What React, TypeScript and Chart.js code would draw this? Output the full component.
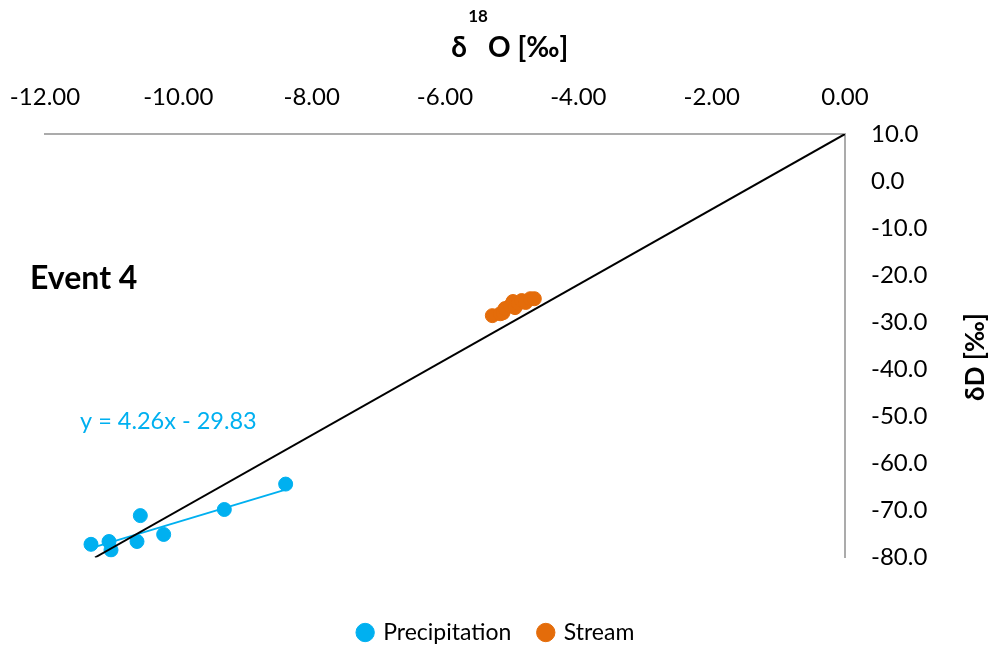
import React, { useEffect, useRef } from "react";
import { Chart, registerables } from "chart.js";

Chart.register(...registerables);

// δ18O / δD samples, ‰
const precipitationX = [-11.31, -11.04, -11.01, -10.57, -10.62, -10.22, -9.31, -8.39];
const precipitationY = [-77.2, -76.6, -78.4, -71.1, -76.6, -75.1, -69.8, -64.4];

const streamX = [-5.29, -5.17, -5.13, -5.1, -5.02, -4.98, -4.95, -4.9, -4.85, -4.79, -4.72, -4.66];
const streamY = [-28.6, -28.2, -28.0, -27.1, -26.5, -25.6, -26.9, -26.0, -25.4, -25.8, -25.0, -25.0];

// Linear fit through the precipitation samples
const trendSlope = 4.26;
const trendIntercept = -29.83;

// Global meteoric water line, δD = 8·δ18O + 10
const gmwlX = [-11.25, 0];
const gmwlY = [-80, 10];

const xTicks = [-12, -10, -8, -6, -4, -2, 0];
const yTicks = [10, 0, -10, -20, -30, -40, -50, -60, -70, -80];

const BLUE = "#00B0F0";
const ORANGE = "#E46C0A";
const FONT = "Lato";

const toPoints = (xs: number[], ys: number[]) => xs.map((x, i) => ({ x, y: ys[i] }));

const trendX = [Math.min(...precipitationX), Math.max(...precipitationX)];
const trendPoints = trendX.map((x) => ({ x, y: trendSlope * x + trendIntercept }));

const labelsPlugin = {
  id: "chartLabels",
  afterDraw(chart: any) {
    const { ctx, chartArea } = chart;
    ctx.save();
    ctx.fillStyle = "#000";

    // Top axis title: δ¹⁸O [‰]
    ctx.textBaseline = "alphabetic";
    ctx.textAlign = "center";
    ctx.font = `bold 28px ${FONT}`;
    ctx.fillText("δ", 459, 57);
    ctx.textAlign = "left";
    ctx.fillText("O [‰]", 488, 57);
    ctx.textAlign = "center";
    ctx.font = `bold 17px ${FONT}`;
    ctx.fillText("18", 478, 22);

    // Right axis title, reading bottom to top
    ctx.save();
    ctx.translate(976, 357);
    ctx.rotate(-Math.PI / 2);
    ctx.textAlign = "center";
    ctx.textBaseline = "middle";
    ctx.font = `bold 26px ${FONT}`;
    ctx.fillText("δD [‰]", 0, 0);
    ctx.restore();

    // Event name
    ctx.textAlign = "left";
    ctx.textBaseline = "middle";
    ctx.font = `bold 32px ${FONT}`;
    ctx.fillText("Event 4", chartArea.left - 15, 279);

    // Trendline equation
    ctx.fillStyle = BLUE;
    ctx.font = `23.5px ${FONT}`;
    const sign = trendIntercept < 0 ? "-" : "+";
    ctx.fillText(
      `y = ${trendSlope.toFixed(2)}x ${sign} ${Math.abs(trendIntercept).toFixed(2)}`,
      chartArea.left + 35,
      421
    );
    ctx.restore();
  },
};

export default function App() {
  const canvasRef = useRef<HTMLCanvasElement | null>(null);

  useEffect(() => {
    if (!canvasRef.current) return;
    const chart = new Chart(canvasRef.current, {
      type: "scatter",
      data: {
        datasets: [
          {
            label: "Precipitation",
            data: toPoints(precipitationX, precipitationY),
            backgroundColor: BLUE,
            borderColor: BLUE,
            pointRadius: 7,
            pointHoverRadius: 7,
            order: 2,
          },
          {
            label: "Stream",
            data: toPoints(streamX, streamY),
            backgroundColor: ORANGE,
            borderColor: ORANGE,
            pointRadius: 7,
            pointHoverRadius: 7,
            order: 3,
          },
          {
            label: "trend",
            type: "line",
            data: trendPoints,
            borderColor: BLUE,
            borderWidth: 2,
            pointRadius: 0,
            showLine: true,
            order: 1,
          } as any,
          {
            label: "gmwl",
            type: "line",
            data: toPoints(gmwlX, gmwlY),
            borderColor: "#000",
            borderWidth: 2,
            pointRadius: 0,
            showLine: true,
            order: 0,
          } as any,
        ],
      },
      options: {
        animation: false,
        responsive: true,
        maintainAspectRatio: false,
        layout: { padding: { left: 0, top: 0, right: 0, bottom: -7 } },
        plugins: {
          tooltip: { enabled: false },
          legend: {
            position: "bottom",
            title: {
              display: true,
              text: "",
              font: { size: 1, lineHeight: 1 },
              padding: { top: 34.5, bottom: 0 },
            },
            labels: {
              filter: (item: any) => item.datasetIndex < 2,
              usePointStyle: true,
              pointStyle: "circle",
              boxWidth: 13,
              boxHeight: 13,
              padding: 28,
              color: "#000",
              font: { family: FONT, size: 23 },
            },
          },
        },
        scales: {
          x: {
            type: "linear",
            position: "top",
            min: -12,
            max: 0,
            afterBuildTicks: (scale: any) => {
              scale.ticks = xTicks.map((v) => ({ value: v }));
            },
            afterFit: (scale: any) => {
              scale.height = 134;
              scale.paddingLeft = 45;
              scale.paddingRight = 0;
            },
            grid: { display: false, drawTicks: false },
            border: { display: true, color: "#ababab", width: 2 },
            ticks: {
              padding: 22,
              color: "#000",
              font: { family: FONT, size: 24 },
              maxRotation: 0,
              callback: (v: any) => Number(v).toFixed(2),
            },
          },
          y: {
            type: "linear",
            position: "right",
            min: -80,
            max: 10,
            afterBuildTicks: (scale: any) => {
              scale.ticks = yTicks.map((v) => ({ value: v }));
            },
            afterFit: (scale: any) => {
              scale.width = 148;
            },
            grid: { display: false, drawTicks: false },
            border: { display: true, color: "#ababab", width: 2 },
            ticks: {
              padding: 26,
              color: "#000",
              font: { family: FONT, size: 24 },
              callback: (v: any) => Number(v).toFixed(1),
            },
          },
        },
      },
      plugins: [labelsPlugin],
    });
    return () => chart.destroy();
  }, []);

  return (
    <div style={{ position: "fixed", left: 0, top: 0, width: 993, height: 647, background: "#fff" }}>
      <canvas ref={canvasRef} />
    </div>
  );
}
